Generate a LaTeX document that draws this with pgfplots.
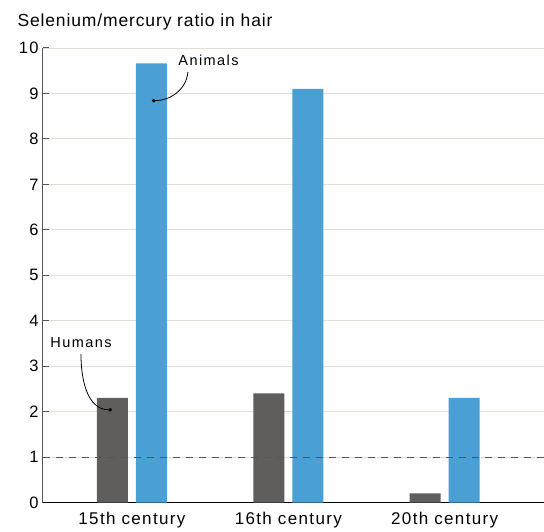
\documentclass[border=0pt]{standalone}
\usepackage{fontspec}
\setmainfont{Liberation Sans}
\newfontfamily\tickfont[LetterSpace=8]{Liberation Sans}
\newfontfamily\notefont[LetterSpace=10]{Liberation Sans}
\newfontfamily\titlefont[LetterSpace=5]{Liberation Sans}
\usepackage{pgfplots}
\pgfplotsset{compat=1.18}
\usetikzlibrary{arrows.meta}

\definecolor{humgray}{HTML}{5F5E5C}
\definecolor{anblue}{HTML}{4A9FD4}
\definecolor{gridtan}{HTML}{E3DDD3}
\definecolor{axgray}{HTML}{555555}

\begin{document}
\begin{tikzpicture}
\begin{axis}[
    scale only axis,
    width=501pt, height=455pt,
    xmin=-0.569, xmax=2.632,
    ymin=0, ymax=10,
    axis x line*=bottom,
    axis y line*=left,
    x axis line style={black, line width=1pt},
    y axis line style={axgray, line width=1pt},
    xtick={0,1,2},
    xticklabels={15th century,16th century,20th century},
    x tick style={draw=none},
    ytick={0,1,...,10},
    y tick style={axgray, line width=1pt},
    tick align=inside,
    major tick length=6pt,
    ymajorgrids,
    major grid style={gridtan, line width=0.9pt},
    yticklabel style={font=\tickfont\fontsize{16.5}{18}\selectfont, xshift=-1pt},
    xticklabel style={font=\tickfont\fontsize{17}{19}\selectfont, yshift=-6pt},
    /pgf/number format/assume math mode=true,
    clip=false,
]
\addplot[ybar, bar width=31pt, bar shift=-19.5pt, fill=humgray, draw=none]
    coordinates {(0,2.3) (1,2.4) (2,0.2)};
\addplot[ybar, bar width=31pt, bar shift=19.5pt, fill=anblue, draw=none]
    coordinates {(0,9.66) (1,9.1) (2,2.3)};
\addplot[axgray, line width=1pt, dash pattern=on 7pt off 6pt]
    coordinates {(-0.569,1) (2.632,1)};

% annotations
\node[font=\notefont\fontsize{14.5}{16}\selectfont] at (axis cs:0.49,9.72) {Animals};
\draw[black, line width=0.8pt, -{Circle[length=3.5pt]}]
    (axis cs:0.358,9.47) to[out=-95, in=0] (axis cs:0.128,8.84);
\node[font=\notefont\fontsize{14.5}{16}\selectfont] at (axis cs:-0.326,3.52) {Humans};
\draw[black, line width=0.8pt, -{Circle[length=3.5pt]}]
    (axis cs:-0.326,3.27) to[out=-90, in=180] (axis cs:-0.128,2.04);
\end{axis}
\node[anchor=base west, font=\titlefont\fontsize{17.5}{20}\selectfont] at (-29pt,476pt) {Selenium/mercury ratio in hair};
\path[use as bounding box] (-43pt,-27pt) rectangle (501pt,503pt);
\end{tikzpicture}
\end{document}
